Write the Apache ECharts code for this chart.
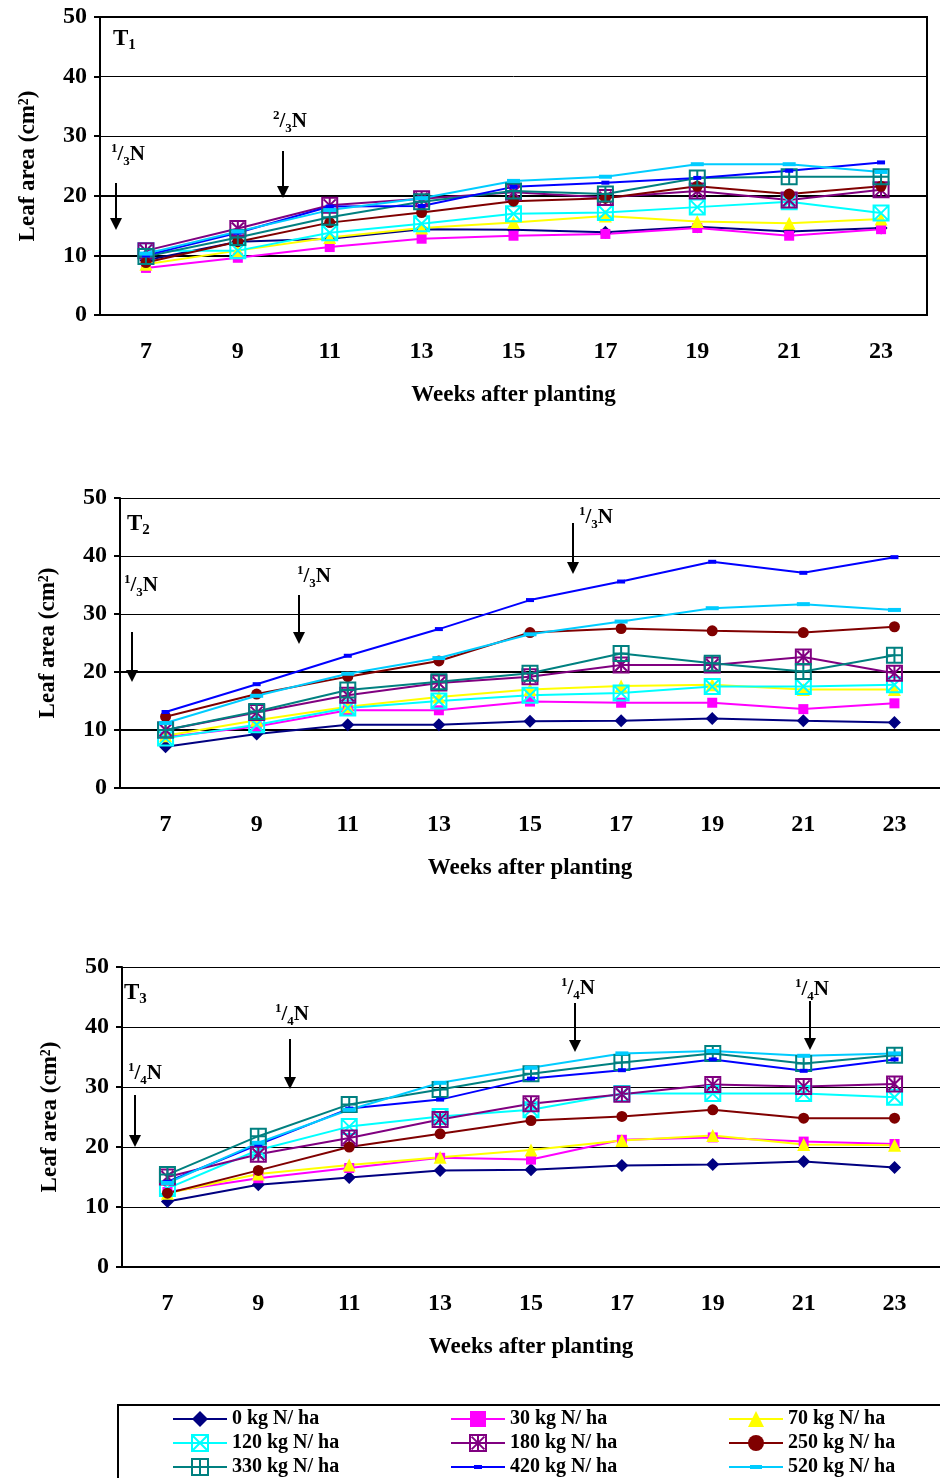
<!DOCTYPE html>
<html>
<head>
<meta charset="utf-8">
<script src="https://cdn.jsdelivr.net/npm/echarts/dist/echarts.min.js"></script>
<style>
html,body{margin:0;padding:0;background:#fff}
#chart{width:940px;height:1478px}
</style>
</head>
<body>
<div id="chart"></div>
<script>
var weeks = ['7','9','11','13','15','17','19','21','23']
var doses = ['0 kg N/ ha','30 kg N/ ha','70 kg N/ ha','120 kg N/ ha','180 kg N/ ha',
             '250 kg N/ ha','330 kg N/ ha','420 kg N/ ha','520 kg N/ ha']

// leaf area per dose (rows) and week (cols)
var t1Values = [
    [9.2, 12.3, 12.8, 14.4, 14.3, 13.9, 14.8, 14.0, 14.6],
    [7.9, 9.6, 11.4, 12.8, 13.3, 13.6, 14.6, 13.3, 14.4],
    [8.5, 10.8, 13.0, 14.6, 15.5, 16.6, 15.7, 15.4, 16.1],
    [10.8, 10.8, 13.8, 15.3, 17.0, 17.2, 18.1, 19.0, 17.1],
    [10.8, 14.5, 18.4, 19.5, 20.6, 19.7, 20.8, 19.3, 21.0],
    [8.8, 12.3, 15.5, 17.2, 19.1, 19.6, 21.6, 20.3, 21.6],
    [9.8, 13.0, 16.4, 19.0, 20.8, 20.3, 23.0, 23.2, 23.2],
    [10.0, 13.8, 18.2, 18.3, 21.5, 22.2, 23.0, 24.2, 25.6],
    [10.3, 14.0, 17.6, 19.6, 22.5, 23.2, 25.3, 25.3, 24.0]
]
var t2Values = [
    [7.1, 9.3, 10.9, 10.9, 11.5, 11.6, 12.0, 11.6, 11.3],
    [8.8, 10.6, 13.4, 13.4, 14.9, 14.7, 14.7, 13.6, 14.6],
    [9.0, 11.7, 14.0, 15.7, 17.0, 17.6, 17.8, 17.0, 17.0],
    [8.6, 10.9, 13.8, 15.0, 16.0, 16.4, 17.5, 17.5, 17.8],
    [10.0, 13.0, 16.0, 18.1, 19.2, 21.2, 21.2, 22.6, 19.8],
    [12.3, 16.2, 19.2, 21.9, 26.8, 27.5, 27.1, 26.8, 27.8],
    [10.0, 13.2, 16.9, 18.3, 19.8, 23.2, 21.5, 20.1, 22.9],
    [13.1, 17.9, 22.8, 27.4, 32.4, 35.6, 39.0, 37.1, 39.8],
    [11.2, 15.9, 19.7, 22.4, 26.5, 28.7, 31.0, 31.7, 30.7]
]
var t3Values = [
    [10.9, 13.7, 14.9, 16.1, 16.2, 16.9, 17.1, 17.6, 16.6],
    [12.5, 14.8, 16.5, 18.2, 17.9, 21.2, 21.6, 20.9, 20.5],
    [12.3, 15.5, 17.0, 18.3, 19.5, 21.1, 21.9, 20.4, 20.3],
    [13.1, 19.5, 23.4, 25.1, 26.2, 28.9, 28.9, 28.9, 28.3],
    [15.0, 18.8, 21.5, 24.6, 27.2, 28.8, 30.4, 30.1, 30.5],
    [12.3, 16.1, 20.0, 22.2, 24.4, 25.1, 26.2, 24.8, 24.8],
    [15.4, 21.8, 27.1, 29.6, 32.2, 34.1, 35.6, 33.9, 35.3],
    [14.2, 20.4, 26.4, 27.9, 31.4, 32.8, 34.6, 32.7, 34.6],
    [14.0, 20.7, 26.2, 30.7, 33.2, 35.6, 36.0, 35.2, 35.6]
]
var panelValues = [t1Values, t2Values, t3Values]

var FONT = 'Liberation Serif'
var colors = ['#000080','#FF00FF','#FFFF00','#00FFFF','#800080','#800000','#008080','#0000FF','#00CCFF']
var boxX = 'path://M0,0H10V10H0ZM0,0L10,10M10,0L0,10'
var boxStar = 'path://M0,0H10V10H0ZM1,1L9,9M9,1L1,9M5,0V10'
var boxPlus = 'path://M0,0H10V10H0ZM5,0V10M0,5H10'
var markers = [
    {symbol:'diamond', size:13, open:false},
    {symbol:'rect', size:10, open:false},
    {symbol:'triangle', size:13, open:false},
    {symbol:boxX, size:15, open:true},
    {symbol:boxStar, size:15, open:true},
    {symbol:'circle', size:11, open:false},
    {symbol:boxPlus, size:15, open:true},
    {symbol:'rect', size:[8,4], open:false},
    {symbol:'rect', size:[13,4], open:false}
]
// legend icons for the two dash-marker series: line + small dash, in a 54x20 box
var dashIcons = {
    '420 kg N/ ha':'path://M0,0H0.1V0.1H0ZM0,19.9H0.1V20H0ZM0,9H54V11H0ZM23,8H31V12H23Z',
    '520 kg N/ ha':'path://M0,0H0.1V0.1H0ZM0,19.9H0.1V20H0ZM0,9H54V11H0ZM21,8H33V12H21Z'
}

var grids = [
    {left:100, top:17, width:827, height:298, show:true, borderColor:'#000', borderWidth:2},
    {left:120, top:498, width:824, height:290},
    {left:122, top:967, width:824, height:300}
]
var thickLines = [
    ['rgba(0,0,0,0)','#000','#000','rgba(0,0,0,0)','rgba(0,0,0,0)','#000'],
    ['rgba(0,0,0,0)','#000','#000','rgba(0,0,0,0)','rgba(0,0,0,0)','rgba(0,0,0,0)'],
    ['rgba(0,0,0,0)','rgba(0,0,0,0)','rgba(0,0,0,0)','rgba(0,0,0,0)','rgba(0,0,0,0)','rgba(0,0,0,0)']
]

var xAxes = [], yAxes = [], series = []
for (var p = 0; p < 3; p++){
    xAxes.push({
        gridIndex:p, type:'category', data:weeks, boundaryGap:true,
        axisLine:{lineStyle:{color:'#000', width:2}},
        axisTick:{length:8, lineStyle:{color:'#000', width:2}},
        axisLabel:{margin:25, color:'#000', fontFamily:FONT, fontWeight:'bold', fontSize:24},
        name:'Weeks after planting', nameLocation:'middle', nameGap:69,
        nameTextStyle:{color:'#000', fontFamily:FONT, fontWeight:'bold', fontSize:23}
    })
    yAxes.push({
        gridIndex:p, type:'value', min:0, max:50, interval:10,
        axisLine:{show:true, lineStyle:{color:'#000', width:2}},
        axisTick:{show:true, length:6, lineStyle:{color:'#000', width:2}},
        axisLabel:{margin:13, color:'#000', fontFamily:FONT, fontWeight:'bold', fontSize:24},
        splitLine:{show:true, lineStyle:{color:'#000', width:1}},
        name:'Leaf area (cm²)', nameLocation:'middle', nameGap:60, nameRotate:90,
        nameTextStyle:{color:'#000', fontFamily:FONT, fontWeight:'bold', fontSize:23}
    })
}
// extra hidden axes just to thicken some grid lines
for (var p = 0; p < 3; p++){
    yAxes.push({
        gridIndex:p, type:'value', min:0, max:50, interval:10, position:'left',
        axisLine:{show:false}, axisTick:{show:false}, axisLabel:{show:false},
        splitLine:{show:true, lineStyle:{color:thickLines[p], width:2}}
    })
}

for (var p = 0; p < 3; p++){
    for (var i = 0; i < doses.length; i++){
        var m = markers[i]
        series.push({
            name:doses[i], type:'line', xAxisIndex:p, yAxisIndex:p,
            data:panelValues[p][i],
            symbol:m.symbol, symbolSize:m.size, showAllSymbol:true,
            itemStyle: m.open ? {color:'rgba(0,0,0,0)', borderColor:colors[i], borderWidth:2}
                              : {color:colors[i], borderWidth:0},
            lineStyle:{color:colors[i], width:2},
            emphasis:{disabled:true},
            animation:false
        })
    }
}

var legends = []
var legendLeft = [172, 450, 728]
for (var c = 0; c < 3; c++){
    var items = [doses[c], doses[c+3], doses[c+6]].map(function(n){
        return dashIcons[n] ? {name:n, icon:dashIcons[n]} : {name:n}
    })
    legends.push({
        orient:'vertical', left:legendLeft[c], top:1409, height:120, padding:0,
        data:items,
        itemWidth:54, itemHeight:20, itemGap:4, selectedMode:false,
        textStyle:{color:'#000', fontFamily:FONT, fontWeight:'bold', fontSize:20}
    })
}

var richN = {
    sup:{fontSize:13, fontFamily:FONT, fontWeight:'bold', fill:'#000', verticalAlign:'top'},
    sub:{fontSize:13, fontFamily:FONT, fontWeight:'bold', fill:'#000', verticalAlign:'bottom'}
}
var richT = {
    sub:{fontSize:15, fontFamily:FONT, fontWeight:'bold', fill:'#000', verticalAlign:'bottom'}
}
function label(x, y, txt){
    return {type:'text', x:x, y:y, z:10,
        style:{text:txt, rich:richN, font:'bold 21px ' + FONT, fill:'#000',
               lineHeight:26, align:'left', verticalAlign:'middle'}}
}
function tLabel(x, y, txt){
    return {type:'text', x:x, y:y, z:10,
        style:{text:txt, rich:richT, font:'bold 23px ' + FONT, fill:'#000',
               lineHeight:28, align:'left', verticalAlign:'middle'}}
}
function arrow(x, y1, y2){
    return {type:'group', z:10, children:[
        {type:'line', shape:{x1:x, y1:y1, x2:x, y2:y2-10}, style:{stroke:'#000', lineWidth:2}},
        {type:'polygon', shape:{points:[[x-6,y2-12],[x+6,y2-12],[x,y2]]}, style:{fill:'#000'}}
    ]}
}

var graphics = [
    tLabel(113, 39, 'T{sub|1}'),
    label(111, 155, '{sup|1}/{sub|3}N'), arrow(116, 183, 230),
    label(273, 122, '{sup|2}/{sub|3}N'), arrow(283, 151, 198),
    tLabel(127, 524, 'T{sub|2}'),
    label(124, 586, '{sup|1}/{sub|3}N'), arrow(132, 632, 682),
    label(297, 577, '{sup|1}/{sub|3}N'), arrow(299, 595, 644),
    label(579, 518, '{sup|1}/{sub|3}N'), arrow(573, 523, 574),
    tLabel(124, 993, 'T{sub|3}'),
    label(128, 1074, '{sup|1}/{sub|4}N'), arrow(135, 1095, 1147),
    label(275, 1015, '{sup|1}/{sub|4}N'), arrow(290, 1039, 1089),
    label(561, 989, '{sup|1}/{sub|4}N'), arrow(575, 1003, 1052),
    label(795, 990, '{sup|1}/{sub|4}N'), arrow(810, 1001, 1050),
    {type:'rect', shape:{x:118, y:1405, width:830, height:90}, style:{fill:'none', stroke:'#000', lineWidth:2}, z:0}
]

var chart = echarts.init(document.getElementById('chart'), null, {renderer:'canvas'})
chart.setOption({
    animation:false,
    backgroundColor:'#fff',
    grid:grids,
    xAxis:xAxes,
    yAxis:yAxes,
    legend:legends,
    series:series,
    graphic:graphics
})
</script>
</body>
</html>
